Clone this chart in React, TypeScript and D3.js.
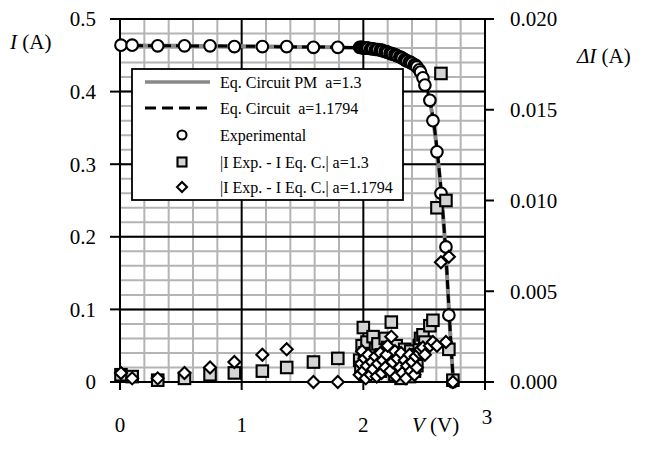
import React from 'react';
import * as d3 from 'd3';

// experimental I-V points: flat part, dense knee, steep fall
const expV = [
  0.008, 0.1, 0.31, 0.53, 0.74, 0.94, 1.17, 1.37, 1.59, 1.79,
  1.97, 1.98, 1.99, 2.0, 2.01, 2.02, 2.03, 2.04, 2.06, 2.07, 2.08, 2.1, 2.11, 2.12, 2.14, 2.15, 2.16, 2.18, 2.19, 2.2,
  2.22, 2.23, 2.24, 2.26, 2.27, 2.28, 2.3, 2.31, 2.32, 2.34, 2.35, 2.36, 2.38, 2.39, 2.4, 2.42, 2.43, 2.44, 2.46, 2.47, 2.49,
  2.506, 2.547, 2.572, 2.605, 2.638, 2.679, 2.703, 2.736,
];
const expI = [
  0.464, 0.464, 0.463, 0.463, 0.463, 0.462, 0.462, 0.462, 0.461, 0.461,
  0.461, 0.461, 0.461, 0.46, 0.46, 0.46, 0.46, 0.46, 0.459, 0.459, 0.459, 0.458, 0.458, 0.458, 0.457, 0.457, 0.456, 0.455, 0.455, 0.454,
  0.453, 0.452, 0.452, 0.451, 0.45, 0.449, 0.448, 0.447, 0.446, 0.444, 0.443, 0.442, 0.441, 0.44, 0.439, 0.437, 0.436, 0.434, 0.43, 0.427, 0.419,
  0.409, 0.388, 0.36, 0.317, 0.26, 0.186, 0.092, 0.0,
];
// |I Exp - I Eq.C.| for a=1.3 (squares) and a=1.1794 (diamonds), right axis
const diff13 = [
  0.0004, 0.0003, 0.0001, 0.0002, 0.0004, 0.0005, 0.0006, 0.0008, 0.0011, 0.0013,
  0.0012, 0.0008, 0.002, 0.003, 0.0016, 0.0005, 0.0022, 0.001, 0.0012, 0.0014, 0.0025, 0.0018, 0.0009, 0.0021, 0.0006, 0.0015, 0.0012, 0.0024, 0.0011, 0.0019,
  0.0008, 0.0033, 0.0013, 0.0004, 0.002, 0.001, 0.0016, 0.0002, 0.0012, 0.0018, 0.0007, 0.0014, 0.0003, 0.0017, 0.0011, 0.0006, 0.0015, 0.0009, 0.002, 0.0024, 0.0026,
  0.0022, 0.0031, 0.0034, 0.0096, 0.017, 0.01, 0.0018, 0.0001,
];
const diff11794 = [
  0.0005, 0.0002, 0.0002, 0.0005, 0.0008, 0.0011, 0.0015, 0.0018, 0.0, 0.0,
  0.0004, 0.001, 0.0017, 0.0006, 0.0013, 0.0002, 0.0009, 0.0015, 0.0004, 0.0011, 0.0007, 0.0014, 0.0003, 0.001, 0.0016, 0.0005, 0.0012, 0.0008, 0.0015, 0.002,
  0.0006, 0.0025, 0.0011, 0.0017, 0.0003, 0.0013, 0.0008, 0.0016, 0.0005, 0.0012, 0.0002, 0.0009, 0.0015, 0.0006, 0.0011, 0.0004, 0.0014, 0.0008, 0.0016, 0.0018, 0.0019,
  0.0015, 0.002, 0.0022, 0.002, 0.0066, 0.0022, 0.0069, 0.0,
];

// equivalent circuit curves
const pmV = [0, 0.5, 1, 1.5, 1.8, 2.0, 2.1, 2.2, 2.3, 2.35, 2.4, 2.45, 2.5, 2.53, 2.56, 2.59, 2.62, 2.65, 2.68, 2.7, 2.72, 2.74];
const pmI = [0.4635, 0.463, 0.4625, 0.4615, 0.461, 0.46, 0.458, 0.455, 0.449, 0.445, 0.44, 0.431, 0.413, 0.399, 0.375, 0.341, 0.296, 0.24, 0.17, 0.11, 0.05, 0.0];
const eqV = [0, 0.5, 1, 1.5, 1.8, 2.0, 2.1, 2.2, 2.3, 2.35, 2.4, 2.45, 2.5, 2.53, 2.56, 2.59, 2.62, 2.65, 2.68, 2.7, 2.72, 2.74];
const eqI = [0.4635, 0.463, 0.4625, 0.4615, 0.461, 0.46, 0.458, 0.455, 0.449, 0.445, 0.44, 0.432, 0.414, 0.4, 0.377, 0.343, 0.298, 0.242, 0.172, 0.112, 0.052, 0.0];

const legendLabels = [
  'Eq. Circuit PM  a=1.3',
  'Eq. Circuit  a=1.1794',
  'Experimental',
  '|I Exp. - I Eq. C.| a=1.3',
  '|I Exp. - I Eq. C.| a=1.1794',
];

const W = 646;
const H = 450;
const font = '"Liberation Serif", "Times New Roman", serif';

const Square = ({ cx, cy, s = 11.5 }) => (
  <rect x={cx - s / 2} y={cy - s / 2} width={s} height={s} fill="#d4d4d4" stroke="#000" strokeWidth={2.1} />
);
const Diamond = ({ cx, cy, r = 6 }) => (
  <path d={`M${cx},${cy - r}L${cx + r},${cy}L${cx},${cy + r}L${cx - r},${cy}Z`} fill="#fff" stroke="#000" strokeWidth={2.1} />
);

export default function App() {
  const x = d3.scaleLinear().domain([0, 3]).range([120, 485]);
  const y = d3.scaleLinear().domain([0, 0.5]).range([382, 19]);
  const y2 = d3.scaleLinear().domain([0, 0.02]).range([382, 19]);

  const line = d3
    .line<[number, number]>()
    .x((d) => x(d[0]))
    .y((d) => y(d[1]))
    .curve(d3.curveMonotoneX);

  const pmPath = line(pmV.map((v, i) => [v, pmI[i]]));
  const eqPath = line(eqV.map((v, i) => [v, eqI[i]]));

  const minorX = d3.range(0, 3.001, 0.2).filter((v) => Math.abs(v - Math.round(v)) > 0.01);
  const minorY = d3.range(0, 0.5001, 0.02);
  const majorX = [1, 2];
  const majorY = d3.range(0, 0.5001, 0.1);
  const rightTicks = d3.range(0, 0.02001, 0.005);

  const top = y(0.5);
  const bottom = y(0);
  const left = x(0);
  const right = x(3);

  const legY = [82, 108, 135, 162, 187];

  return (
    <svg width={W} height={H} style={{ position: 'absolute', left: 0, top: 0, background: '#fff' }} fontFamily={font}>
      <rect width={W} height={H} fill="#fff" />
      {/* grid */}
      <g stroke="#b4b4b4" strokeWidth={2}>
        {minorX.map((v) => (
          <line key={'mx' + v} x1={x(v)} x2={x(v)} y1={top} y2={bottom} />
        ))}
        {minorY.map((v) => (
          <line key={'my' + v} x1={left} x2={right} y1={y(v)} y2={y(v)} />
        ))}
      </g>
      <g stroke="#000" strokeWidth={2}>
        {majorX.map((v) => (
          <line key={'Mx' + v} x1={x(v)} x2={x(v)} y1={top} y2={bottom} />
        ))}
        {majorY.map((v) => (
          <line key={'My' + v} x1={left} x2={right} y1={y(v)} y2={y(v)} />
        ))}
      </g>

      {/* axes */}
      <g stroke="#000" strokeWidth={2}>
        <line x1={left} x2={left} y1={top} y2={bottom + 8} />
        <line x1={right} x2={right} y1={top} y2={bottom + 8} />
        {majorY.map((v) => (
          <line key={'lt' + v} x1={left - 10} x2={left} y1={y(v)} y2={y(v)} />
        ))}
        {[0, 1, 2, 3].map((v) => (
          <line key={'bt' + v} x1={x(v)} x2={x(v)} y1={bottom} y2={bottom + 8} />
        ))}
        {rightTicks.map((v) => (
          <line key={'rt' + v} x1={right} x2={right + 9} y1={y2(v)} y2={y2(v)} />
        ))}
      </g>

      {/* tick labels */}
      <g fontSize={21} fill="#000">
        {majorY.map((v) => (
          <text key={'ll' + v} x={left - 24} y={y(v)} dy="0.35em" textAnchor="end">
            {v === 0 ? '0' : d3.format('.1f')(v)}
          </text>
        ))}
        {rightTicks.map((v) => (
          <text key={'rl' + v} x={right + 25} y={y2(v)} dy="0.35em">
            {d3.format('.3f')(v)}
          </text>
        ))}
        {[0, 1, 2].map((v) => (
          <text key={'xl' + v} x={x(v)} y={432} textAnchor="middle">
            {v}
          </text>
        ))}
        <text x={x(3) + 2} y={424} textAnchor="middle">3</text>
        <text x={412} y={432}>
          <tspan fontStyle="italic">V</tspan> (V)
        </text>
        <text x={10} y={49}>
          <tspan fontStyle="italic">I</tspan> (A)
        </text>
        <text x={577} y={63}>
          <tspan fontStyle="italic">ΔI</tspan> (A)
        </text>
      </g>

      {/* model curves */}
      <path d={pmPath} fill="none" stroke="#888" strokeWidth={4} />
      <path d={eqPath} fill="none" stroke="#000" strokeWidth={3} strokeDasharray="9,5" />

      {/* experimental */}
      {expV.map((v, i) => (
        <circle key={'c' + i} cx={x(v)} cy={y(expI[i])} r={5.8} fill="#fff" stroke="#000" strokeWidth={2.1} />
      ))}
      {expV.map((v, i) => (
        <Square key={'s' + i} cx={x(v)} cy={y2(diff13[i])} />
      ))}
      {expV.map((v, i) => (
        <Diamond key={'d' + i} cx={x(v)} cy={y2(diff11794[i])} />
      ))}

      {/* legend */}
      <rect x={132} y={69} width={271} height={131} fill="#fff" stroke="#000" strokeWidth={1.8} />
      <line x1={145} x2={210} y1={legY[0]} y2={legY[0]} stroke="#888" strokeWidth={3.5} />
      <line x1={145} x2={212} y1={legY[1]} y2={legY[1]} stroke="#000" strokeWidth={3} strokeDasharray="11,6" />
      <circle cx={182} cy={legY[2]} r={4.5} fill="#fff" stroke="#000" strokeWidth={2.1} />
      <Square cx={182} cy={legY[3]} s={9} />
      <Diamond cx={182} cy={legY[4]} r={5} />
      <g fontSize={16} fill="#000">
        {legendLabels.map((t, i) => (
          <text key={t} x={220} y={legY[i]} dy="0.35em" style={{ whiteSpace: 'pre' }}>
            {t}
          </text>
        ))}
      </g>
    </svg>
  );
}
